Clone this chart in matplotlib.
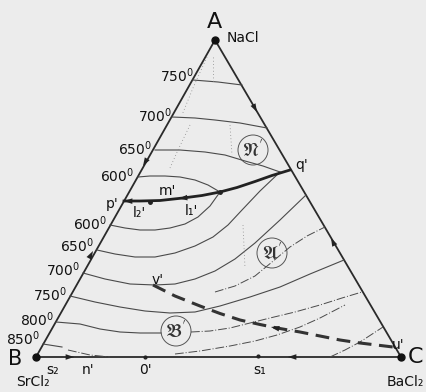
import numpy as np
import matplotlib
matplotlib.use("Agg")
import matplotlib.pyplot as plt
from matplotlib.patches import Circle

# corners of the triangle (picture pixels)
corner_names = ["A", "B", "C"]
corner_xy = {"A": (215, 40), "B": (36, 357), "C": (401, 357)}

# isotherms in the NaCl field
upper_temps = ["750", "700", "650", "600"]
upper_iso = [
    [(193, 80), (218, 82), (242, 85)],
    [(172, 117), (195, 118), (215, 120), (240, 123), (267, 128)],
    [(155, 150), (180, 150), (205, 152), (225, 155), (245, 161), (263, 166), (280, 172)],
    [(138, 177), (150, 176), (165, 176), (180, 177), (195, 180), (208, 185), (220, 192)],
]

# isotherms in the SrCl2 / BaCl2 fields
lower_temps = ["600", "650", "700", "750", "800", "850"]
lower_iso = [
    [(110, 225), (125, 228), (140, 230), (155, 230), (170, 228), (185, 224), (198, 217),
     (210, 206), (220, 192)],
    [(97, 250), (115, 254), (135, 257), (155, 257), (175, 253), (195, 246), (213, 237),
     (228, 225), (242, 210), (260, 191), (280, 172)],
    [(83, 273), (105, 279), (130, 284), (155, 285), (175, 284), (195, 279), (215, 271),
     (235, 259), (255, 243), (280, 220), (306, 195)],
    [(70, 296), (95, 302), (120, 307), (145, 311), (170, 313), (195, 312), (220, 306),
     (250, 297), (280, 287), (310, 274), (344, 260)],
    [(56, 322), (80, 324), (100, 329), (120, 332), (140, 333), (161, 333)],
    [(43, 344), (62, 347)],
]
# dash-dot pieces
dashdot_iso = [
    [(215, 292), (235, 286), (255, 276), (272, 262), (290, 247), (307, 236), (325, 227)],
    [(191, 332), (210, 331), (230, 328), (250, 323), (270, 318), (295, 312), (320, 305),
     (342, 298), (362, 292)],
    [(68, 350), (90, 355), (110, 357)],
    [(175, 354), (200, 351), (230, 346), (255, 341), (277, 335), (300, 327), (320, 318),
     (345, 305)],
    [(330, 357), (345, 350), (360, 342), (383, 327)],
]
dotted = [
    [(207, 57), (193, 88), (182, 115)],
    [(213, 57), (213, 82)],
    [(190, 125), (178, 150), (170, 168)],
    [(243, 225), (245, 268)],
    [(230, 125), (232, 155)],
]

# boundary curves
pq_curve = [(124, 201), (140, 201), (160, 200.5), (183, 198), (202, 195.5), (220, 192),
            (237, 187.5), (255, 181.5), (272, 175.5), (290, 170)]
vu_curve = [(153, 285), (175, 296), (200, 306), (220, 313.5), (240, 320), (260, 324.5),
            (277, 328), (300, 332), (320, 336), (340, 340), (360, 343), (393, 347)]

# labels on the left edge
upper_lab_xy = [(177, 76), (155, 116), (135, 149), (117, 176)]
lower_lab_xy = [(90, 224), (77, 246), (63, 270), (50, 295), (37, 320), (23, 339)]

point_labels = ["q'", "p'", "m'", "l₂'", "l₁'", "v'", "u'", "s₂", "n'", "0'", "s₁"]
point_xy = [(302, 165), (112, 204), (167, 191), (139, 213), (191, 211), (158, 280),
            (398, 345), (53, 370), (88, 370), (145, 370), (260, 370)]

fields = [r"$\mathfrak{N}'$", r"$\mathfrak{A}'$", r"$\mathfrak{B}'$"]
field_xy = [(253, 150), (272, 253), (176, 331)]

# arrows: (tail, head)
arrows = [
    ((150, 154), (143, 166)), ((87, 262), (93, 251)),
    ((250, 99), (257, 112)), ((336, 248), (331, 238)),
    ((62, 357), (74, 357)), ((300, 357), (288, 357)),
    ((190, 197.3), (179, 198.6)), ((135, 201.2), (124, 201)),
    ((283, 329.5), (271, 327)),
]

ink = "#2a2a2a"
thin = "#4a4a4a"

fig = plt.figure(figsize=(4.27, 3.92), dpi=100)
fig.patch.set_facecolor("#ececec")
ax = fig.add_axes([0, 0, 1, 1])
ax.set_xlim(0, 427)
ax.set_ylim(392, 0)
ax.axis("off")

def xy(pts):
    a = np.array(pts, dtype=float)
    return a[:, 0], a[:, 1]

# triangle
tri = [corner_xy[k] for k in corner_names] + [corner_xy["A"]]
ax.plot(*xy(tri), color=ink, lw=1.3, solid_joinstyle="miter")
for k in corner_names:
    ax.plot(*corner_xy[k], "o", color="#111111", ms=5)

for c in upper_iso + lower_iso:
    ax.plot(*xy(c), color=thin, lw=0.8)
for c in dashdot_iso:
    ax.plot(*xy(c), color=thin, lw=0.7, ls=(0, (9, 2, 1, 2)))
for c in dotted:
    ax.plot(*xy(c), color="#888888", lw=0.6, ls=(0, (1, 3)))

ax.plot(*xy(pq_curve), color="#222222", lw=2.0)
ax.plot(*xy(vu_curve), color="#333333", lw=2.2, ls=(0, (4.5, 2.5)))
ax.plot([150, 220], [201.5, 192], "o", color="#222222", ms=2.5)
ax.plot([145, 258], [357, 356], "o", color="#222222", ms=2)

for t, h in arrows:
    ax.annotate("", xy=h, xytext=t,
                arrowprops=dict(arrowstyle="-|>,head_length=0.6,head_width=0.2",
                                color="#222222", lw=0.01, shrinkA=0, shrinkB=0))

# corner texts
ax.text(214, 22, "A", fontsize=16, ha="center", va="center", color="#111111")
ax.text(227, 38, "NaCl", fontsize=10, ha="left", va="center", color="#111111")
ax.text(15, 359, "B", fontsize=15, ha="center", va="center", color="#111111")
ax.text(33, 382, "SrCl₂", fontsize=10, ha="center", va="center", color="#111111")
ax.text(416, 357, "C", fontsize=16, ha="center", va="center", color="#111111")
ax.text(405, 382, "BaCl₂", fontsize=10, ha="center", va="center", color="#111111")

for t, p in zip(upper_temps, upper_lab_xy):
    ax.text(p[0], p[1], t + r"$^{0}$", fontsize=10, ha="center", va="center", color="#111111")
for t, p in zip(lower_temps, lower_lab_xy):
    ax.text(p[0], p[1], t + r"$^{0}$", fontsize=10, ha="center", va="center", color="#111111")

for t, p in zip(point_labels, point_xy):
    ax.text(p[0], p[1], t, fontsize=10, ha="center", va="center", color="#111111")

for t, p in zip(fields, field_xy):
    ax.add_patch(Circle(p, 15, fill=False, ec="#555555", lw=0.7))
    ax.text(p[0], p[1], t, fontsize=14, ha="center", va="center",
            color="#333333", math_fontfamily="stix")

fig.savefig("out.png", dpi=100, facecolor=fig.get_facecolor())
